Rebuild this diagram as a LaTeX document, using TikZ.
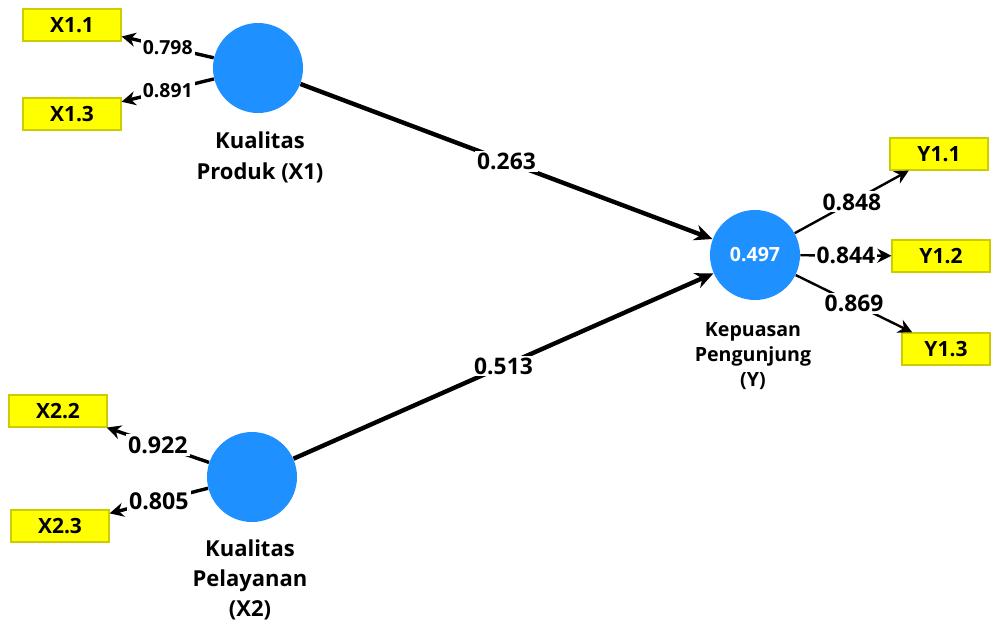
\documentclass[tikz,border=0pt]{standalone}
\usepackage{fontspec}
\setmainfont{Open Sans}
\usetikzlibrary{arrows.meta}
\definecolor{lvblue}{RGB}{30,144,255}
\definecolor{mvyellow}{RGB}{255,255,0}
\definecolor{mvborder}{RGB}{204,204,0}
\begin{document}
\begin{tikzpicture}[x=0.5pt, y=-0.5pt,
	latent/.style={circle, fill=lvblue, minimum size=45pt, inner sep=0pt, text=white, font=\bfseries\fontsize{9.8}{10}\selectfont},
	indicator/.style={draw=mvborder, line width=0.6pt, fill=mvyellow, minimum width=49pt, minimum height=16pt, inner sep=0pt, font=\bfseries\fontsize{10.5}{12}\selectfont},
	caption/.style={align=center, inner sep=0pt, font=\bfseries\fontsize{11}{15.5}\selectfont},
	inner/.style={line width=2.2pt, -{Stealth[length=9pt, width=8pt]}},
	outer/.style={line width=1.7pt, -{Stealth[length=7pt, width=7pt]}},
	coef/.style={fill=white, inner sep=1pt, font=\bfseries\fontsize{11.4}{12}\selectfont}]
	\useasboundingbox (0,0) rectangle (991,623);
	% latent variables
	\node[latent] (x1) at (258,68) {};
	\node[latent] (x2) at (252,477) {};
	\node[latent] (y) at (755,255) {0.497};
	\node[caption] (x1lbl) at (260,157) {Kualitas\\Produk (X1)};
	\node[caption, font=\bfseries\fontsize{11}{15}\selectfont] (x2lbl) at (250,580) {Kualitas\\Pelayanan\\(X2)};
	\node[caption, font=\bfseries\fontsize{9.8}{12.5}\selectfont] (ylbl) at (753,356) {Kepuasan\\Pengunjung\\(Y)};
	% indicators
	\node[indicator] (x11) at (72,25) {X1.1};
	\node[indicator] (x13) at (72,114) {X1.3};
	\node[indicator] (x22) at (58,411) {X2.2};
	\node[indicator] (x23) at (60,526) {X2.3};
	\node[indicator] (y11) at (939,154) {Y1.1};
	\node[indicator] (y12) at (941,256) {Y1.2};
	\node[indicator, minimum width=44pt] (y13) at (946,349) {Y1.3};
	% paths
	\draw[inner] (x1) -- node[coef]{0.263} (y);
	\draw[inner] (x2) -- node[coef]{0.513} (y);
	\draw[outer] (x1) -- node[coef, font=\bfseries\fontsize{9.7}{10}\selectfont]{0.798} (x11);
	\draw[outer] (x1) -- node[coef, font=\bfseries\fontsize{9.7}{10}\selectfont]{0.891} (x13);
	\draw[outer] (x2) -- node[coef, font=\bfseries\fontsize{11.6}{12}\selectfont]{0.922} (x22);
	\draw[outer] (x2) -- node[coef, font=\bfseries\fontsize{11.6}{12}\selectfont]{0.805} (x23);
	\draw[outer, line width=1.2pt] (y) -- node[coef]{0.848} (y11);
	\draw[outer, line width=1.2pt] (y) -- node[coef]{0.844} (y12);
	\draw[outer, line width=1.2pt] (y) -- node[coef]{0.869} (y13);
\end{tikzpicture}
\end{document}
